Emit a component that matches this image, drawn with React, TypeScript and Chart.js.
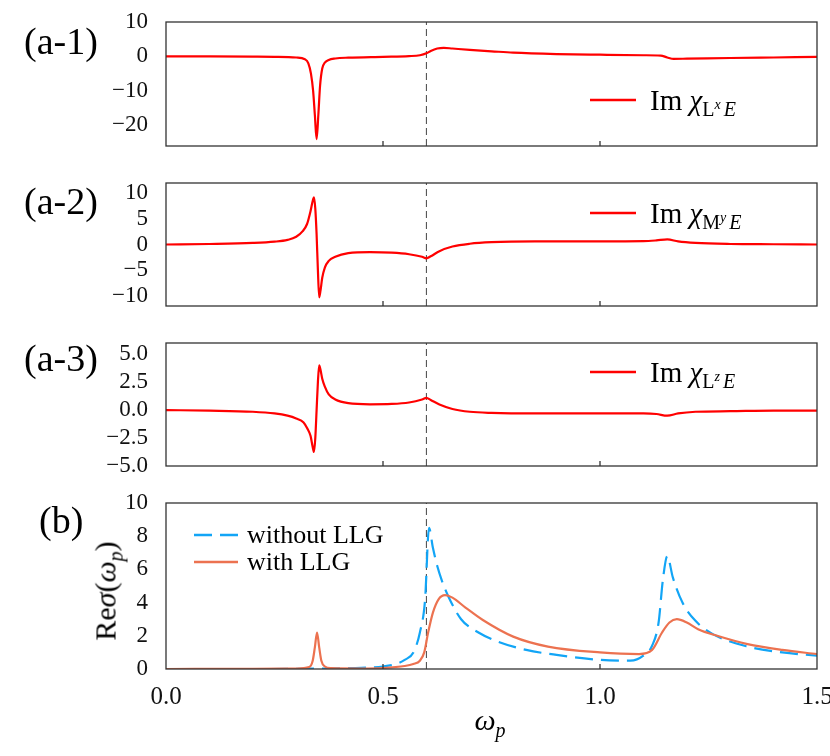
import { useEffect, useRef } from 'react';
import Chart from 'chart.js/auto';

const SERIF = '"Liberation Serif", "DejaVu Serif", serif';

const xMin = 0;
const xMax = 1.5;
const resonance = 0.6;

// (a-1) Im chi_{L^x E}
const omegaLx = [0, 0.1, 0.2, 0.25, 0.3, 0.32, 0.328, 0.334, 0.339, 0.343, 0.347, 0.351, 0.355, 0.36, 0.366, 0.375, 0.39, 0.42, 0.5, 0.56, 0.585, 0.6, 0.61, 0.625, 0.64, 0.66, 0.7, 0.75, 0.8, 0.9, 1.0, 1.1, 1.14, 1.155, 1.17, 1.2, 1.3, 1.4, 1.5];
const imLx = [0, 0, -0.05, -0.1, -0.3, -0.8, -2, -5, -10, -17, -24, -17, -8.5, -3.5, -1.8, -1, -0.6, -0.35, -0.1, 0.1, 0.35, 0.9, 1.6, 2.3, 2.5, 2.3, 1.9, 1.5, 1.1, 0.7, 0.5, 0.35, 0.25, -0.3, -0.7, -0.65, -0.45, -0.3, -0.15];

// (a-2) Im chi_{M^y E}
const omegaMy = [0, 0.1, 0.2, 0.25, 0.28, 0.3, 0.315, 0.325, 0.333, 0.338, 0.341, 0.344, 0.347, 0.35, 0.353, 0.356, 0.36, 0.366, 0.375, 0.39, 0.42, 0.47, 0.52, 0.56, 0.59, 0.6, 0.61, 0.63, 0.66, 0.7, 0.75, 0.85, 1.0, 1.1, 1.13, 1.155, 1.18, 1.22, 1.3, 1.4, 1.5];
const imMy = [0, 0.1, 0.3, 0.55, 0.9, 1.5, 2.6, 4, 6.5, 8.5, 9.2, 7, 2, -5, -10.3, -9, -6.5, -4.5, -3.2, -2.4, -1.7, -1.5, -1.6, -1.9, -2.4, -2.7, -2.3, -1.3, -0.4, 0.15, 0.45, 0.6, 0.6, 0.65, 0.8, 1.0, 0.6, 0.3, 0.1, 0.05, 0];

// (a-3) Im chi_{L^z E}
const omegaLz = [0, 0.1, 0.2, 0.25, 0.28, 0.3, 0.317, 0.325, 0.333, 0.338, 0.341, 0.344, 0.347, 0.35, 0.353, 0.356, 0.36, 0.366, 0.375, 0.39, 0.42, 0.47, 0.52, 0.56, 0.59, 0.6, 0.61, 0.63, 0.66, 0.7, 0.75, 0.85, 1.0, 1.1, 1.13, 1.155, 1.18, 1.22, 1.3, 1.4, 1.5];
const imLz = [0, -0.05, -0.15, -0.3, -0.5, -0.75, -1.1, -1.6, -2.3, -3.3, -3.75, -2.5, 0, 2.5, 4.0, 3.6, 2.8, 2.1, 1.4, 0.95, 0.62, 0.52, 0.55, 0.68, 0.95, 1.1, 0.9, 0.5, 0.1, -0.15, -0.25, -0.3, -0.3, -0.3, -0.35, -0.5, -0.3, -0.15, -0.1, -0.05, -0.05];

// (b) Re sigma
const omegaNoLLG = [0, 0.2, 0.3, 0.33, 0.35, 0.37, 0.4, 0.45, 0.5, 0.53, 0.55, 0.57, 0.585, 0.597, 0.606, 0.615, 0.625, 0.636, 0.65, 0.68, 0.72, 0.77, 0.83, 0.9, 1.0, 1.07, 1.1, 1.12, 1.135, 1.145, 1.155, 1.168, 1.19, 1.22, 1.26, 1.34, 1.42, 1.5];
const sigmaNoLLG = [0, 0, 0.01, 0.02, 0.03, 0.03, 0.04, 0.07, 0.15, 0.3, 0.55, 1.0, 2.2, 4.2, 8.5, 7.3, 6.2, 5.3, 4.4, 3.0, 2.2, 1.6, 1.15, 0.85, 0.55, 0.5, 0.8, 1.4, 2.8, 5.4, 6.8, 5.5, 4.0, 2.9, 2.1, 1.35, 1.0, 0.8];
const omegaLLG = [0, 0.2, 0.3, 0.33, 0.338, 0.343, 0.348, 0.353, 0.358, 0.366, 0.38, 0.45, 0.5, 0.55, 0.57, 0.585, 0.595, 0.604, 0.615, 0.628, 0.643, 0.66, 0.69, 0.73, 0.8, 0.88, 1.0, 1.09, 1.12, 1.143, 1.16, 1.177, 1.2, 1.226, 1.27, 1.34, 1.42, 1.5];
const sigmaLLG = [0, 0.01, 0.03, 0.12, 0.5, 1.3, 2.2, 1.3, 0.5, 0.15, 0.05, 0.03, 0.06, 0.18, 0.3, 0.5, 1.0, 2.2, 3.4, 4.2, 4.45, 4.3, 3.7, 2.95, 1.95, 1.35, 1.0, 0.9, 1.15, 2.2, 2.8, 3.0, 2.8, 2.4, 2.0, 1.5, 1.15, 0.9];

const yTicksA1 = [-20, -10, 0, 10];
const yTicksA2 = [-10, -5, 0, 5, 10];
const yTicksA3 = [-5, -2.5, 0, 2.5, 5];
const yTicksB = [0, 2, 4, 6, 8, 10];

interface Series {
  xs: number[];
  ys: number[];
  color: string;
  dash?: number[];
}

interface PanelProps {
  top: number;
  height: number;
  series: Series[];
  yMin: number;
  yMax: number;
  yTicks: number[];
  decimals: number;
  showX: boolean;
}

const framePlugin = {
  id: 'frame',
  afterDatasetsDraw(chart: any) {
    const { ctx, chartArea: a, scales } = chart;
    ctx.save();
    ctx.strokeStyle = '#333';
    ctx.lineWidth = 1.3;
    ctx.strokeRect(a.left, a.top, a.right - a.left, a.bottom - a.top);
    ctx.beginPath();
    for (const t of scales.x.ticks) {
      if (t.value <= xMin || t.value >= xMax) continue;
      const px = scales.x.getPixelForValue(t.value);
      ctx.moveTo(px, a.bottom);
      ctx.lineTo(px, a.bottom - 5);
    }
    ctx.stroke();
    ctx.restore();
  }
};

function Panel({ top, height, series, yMin, yMax, yTicks, decimals, showX }: PanelProps) {
  const ref = useRef<HTMLCanvasElement | null>(null);

  useEffect(() => {
    if (!ref.current) return;
    const datasets: any[] = series.map((s) => ({
      data: s.xs.map((x, i) => ({ x, y: s.ys[i] })),
      borderColor: s.color,
      borderWidth: 2.2,
      borderDash: s.dash ?? [],
      pointRadius: 0,
      cubicInterpolationMode: 'monotone',
      fill: false
    }));
    datasets.push({
      data: [{ x: resonance, y: yMin }, { x: resonance, y: yMax }],
      borderColor: '#444',
      borderWidth: 1,
      borderDash: [7, 4],
      pointRadius: 0
    });
    const chart = new Chart(ref.current, {
      type: 'line',
      data: { datasets },
      options: {
        animation: false,
        responsive: false,
        events: [],
        layout: { padding: { left: 0, right: 43, top: 32, bottom: 0 } },
        plugins: { legend: { display: false }, tooltip: { enabled: false } },
        scales: {
          x: {
            type: 'linear',
            min: xMin,
            max: xMax,
            grid: { display: false },
            border: { display: false },
            ticks: {
              display: showX,
              stepSize: 0.5,
              padding: 5,
              color: '#111',
              font: { family: SERIF, size: 25 },
              callback: (v: any) => Number(v).toFixed(1)
            },
            afterFit: (axis: any) => { axis.height = showX ? 40 : 30; }
          },
          y: {
            min: yMin,
            max: yMax,
            grid: { display: false },
            border: { display: false },
            afterBuildTicks: (axis: any) => { axis.ticks = yTicks.map((value) => ({ value })); },
            ticks: {
              autoSkip: false,
              padding: 10,
              color: '#111',
              font: { family: SERIF, size: 23 },
              callback: (v: any) => (Number(v) < 0 ? '\u2212' : '') + Math.abs(Number(v)).toFixed(decimals)
            },
            afterFit: (axis: any) => { axis.width = 166; }
          }
        }
      },
      plugins: [framePlugin]
    });
    return () => chart.destroy();
  }, [series, yMin, yMax, yTicks, decimals, showX]);

  return (
    <canvas
      ref={ref}
      width={860}
      height={height}
      style={{ position: 'absolute', left: 0, top, width: 860, height }}
    />
  );
}

function PanelTag({ text, left, top }: { text: string; left: number; top: number }) {
  return (
    <div style={{ position: 'absolute', left, top, fontFamily: SERIF, fontSize: 38, lineHeight: '38px', color: '#000' }}>
      {text}
    </div>
  );
}

function ChiLegend({ top, base, sup }: { top: number; base: string; sup: string }) {
  return (
    <div style={{ position: 'absolute', left: 590, top: top - 20, height: 40, display: 'flex', alignItems: 'center', fontFamily: SERIF, color: '#000' }}>
      <svg width={46} height={4}><line x1={0} y1={2} x2={46} y2={2} stroke="#ff0000" strokeWidth={2.4} /></svg>
      <span style={{ marginLeft: 14, fontSize: 29, whiteSpace: 'nowrap' }}>
        Im <i>χ</i>
        <span style={{ fontSize: 20, position: 'relative', top: 6 }}>
          {base}
          <span style={{ fontSize: 14, position: 'relative', top: -7 }}><i>{sup}</i></span>
          <i style={{ marginLeft: 3 }}>E</i>
        </span>
      </span>
    </div>
  );
}

function SigmaLegend({ top, label, color, dashed }: { top: number; label: string; color: string; dashed: boolean }) {
  return (
    <div style={{ position: 'absolute', left: 194, top: top - 15, height: 30, display: 'flex', alignItems: 'center', fontFamily: SERIF, color: '#000' }}>
      <svg width={44} height={4}>
        <line x1={0} y1={2} x2={44} y2={2} stroke={color} strokeWidth={2.4} strokeDasharray={dashed ? '18 8' : undefined} />
      </svg>
      <span style={{ marginLeft: 9, fontSize: 26, whiteSpace: 'nowrap' }}>{label}</span>
    </div>
  );
}

const seriesA1: Series[] = [{ xs: omegaLx, ys: imLx, color: '#ff0000' }];
const seriesA2: Series[] = [{ xs: omegaMy, ys: imMy, color: '#ff0000' }];
const seriesA3: Series[] = [{ xs: omegaLz, ys: imLz, color: '#ff0000' }];
const seriesB: Series[] = [
  { xs: omegaLLG, ys: sigmaLLG, color: '#ec7250' },
  { xs: omegaNoLLG, ys: sigmaNoLLG, color: '#12a5f6', dash: [18, 8] }
];

export default function App() {
  useEffect(() => {
    document.body.style.margin = '0';
  }, []);

  return (
    <div style={{ position: 'relative', width: 830, height: 756, overflow: 'hidden', background: '#fff' }}>
      <Panel top={-10} height={186} series={seriesA1} yMin={-26} yMax={10} yTicks={yTicksA1} decimals={0} showX={false} />
      <Panel top={151} height={185} series={seriesA2} yMin={-12} yMax={12} yTicks={yTicksA2} decimals={0} showX={false} />
      <Panel top={311} height={185} series={seriesA3} yMin={-5} yMax={6} yTicks={yTicksA3} decimals={1} showX={false} />
      <Panel top={471} height={238} series={seriesB} yMin={0} yMax={10} yTicks={yTicksB} decimals={0} showX={true} />

      <PanelTag text="(a-1)" left={24} top={22} />
      <PanelTag text="(a-2)" left={24} top={182} />
      <PanelTag text="(a-3)" left={24} top={339} />
      <PanelTag text="(b)" left={39} top={501} />

      <ChiLegend top={100} base="L" sup="x" />
      <ChiLegend top={213} base="M" sup="y" />
      <ChiLegend top={372} base="L" sup="z" />

      <SigmaLegend top={535} label="without LLG" color="#12a5f6" dashed={true} />
      <SigmaLegend top={562} label="with LLG" color="#ec7250" dashed={false} />

      <div style={{ position: 'absolute', left: 108, top: 591, transform: 'translate(-50%, -50%) rotate(-90deg)', fontFamily: SERIF, fontSize: 30, whiteSpace: 'nowrap', color: '#000' }}>
        Re<i>σ</i>(<i>ω</i><sub style={{ fontSize: 20 }}><i>p</i></sub>)
      </div>
      <div style={{ position: 'absolute', left: 490, top: 722, transform: 'translate(-50%, -50%)', fontFamily: SERIF, fontSize: 30, whiteSpace: 'nowrap', color: '#000' }}>
        <i>ω</i><sub style={{ fontSize: 20 }}><i>p</i></sub>
      </div>
    </div>
  );
}
